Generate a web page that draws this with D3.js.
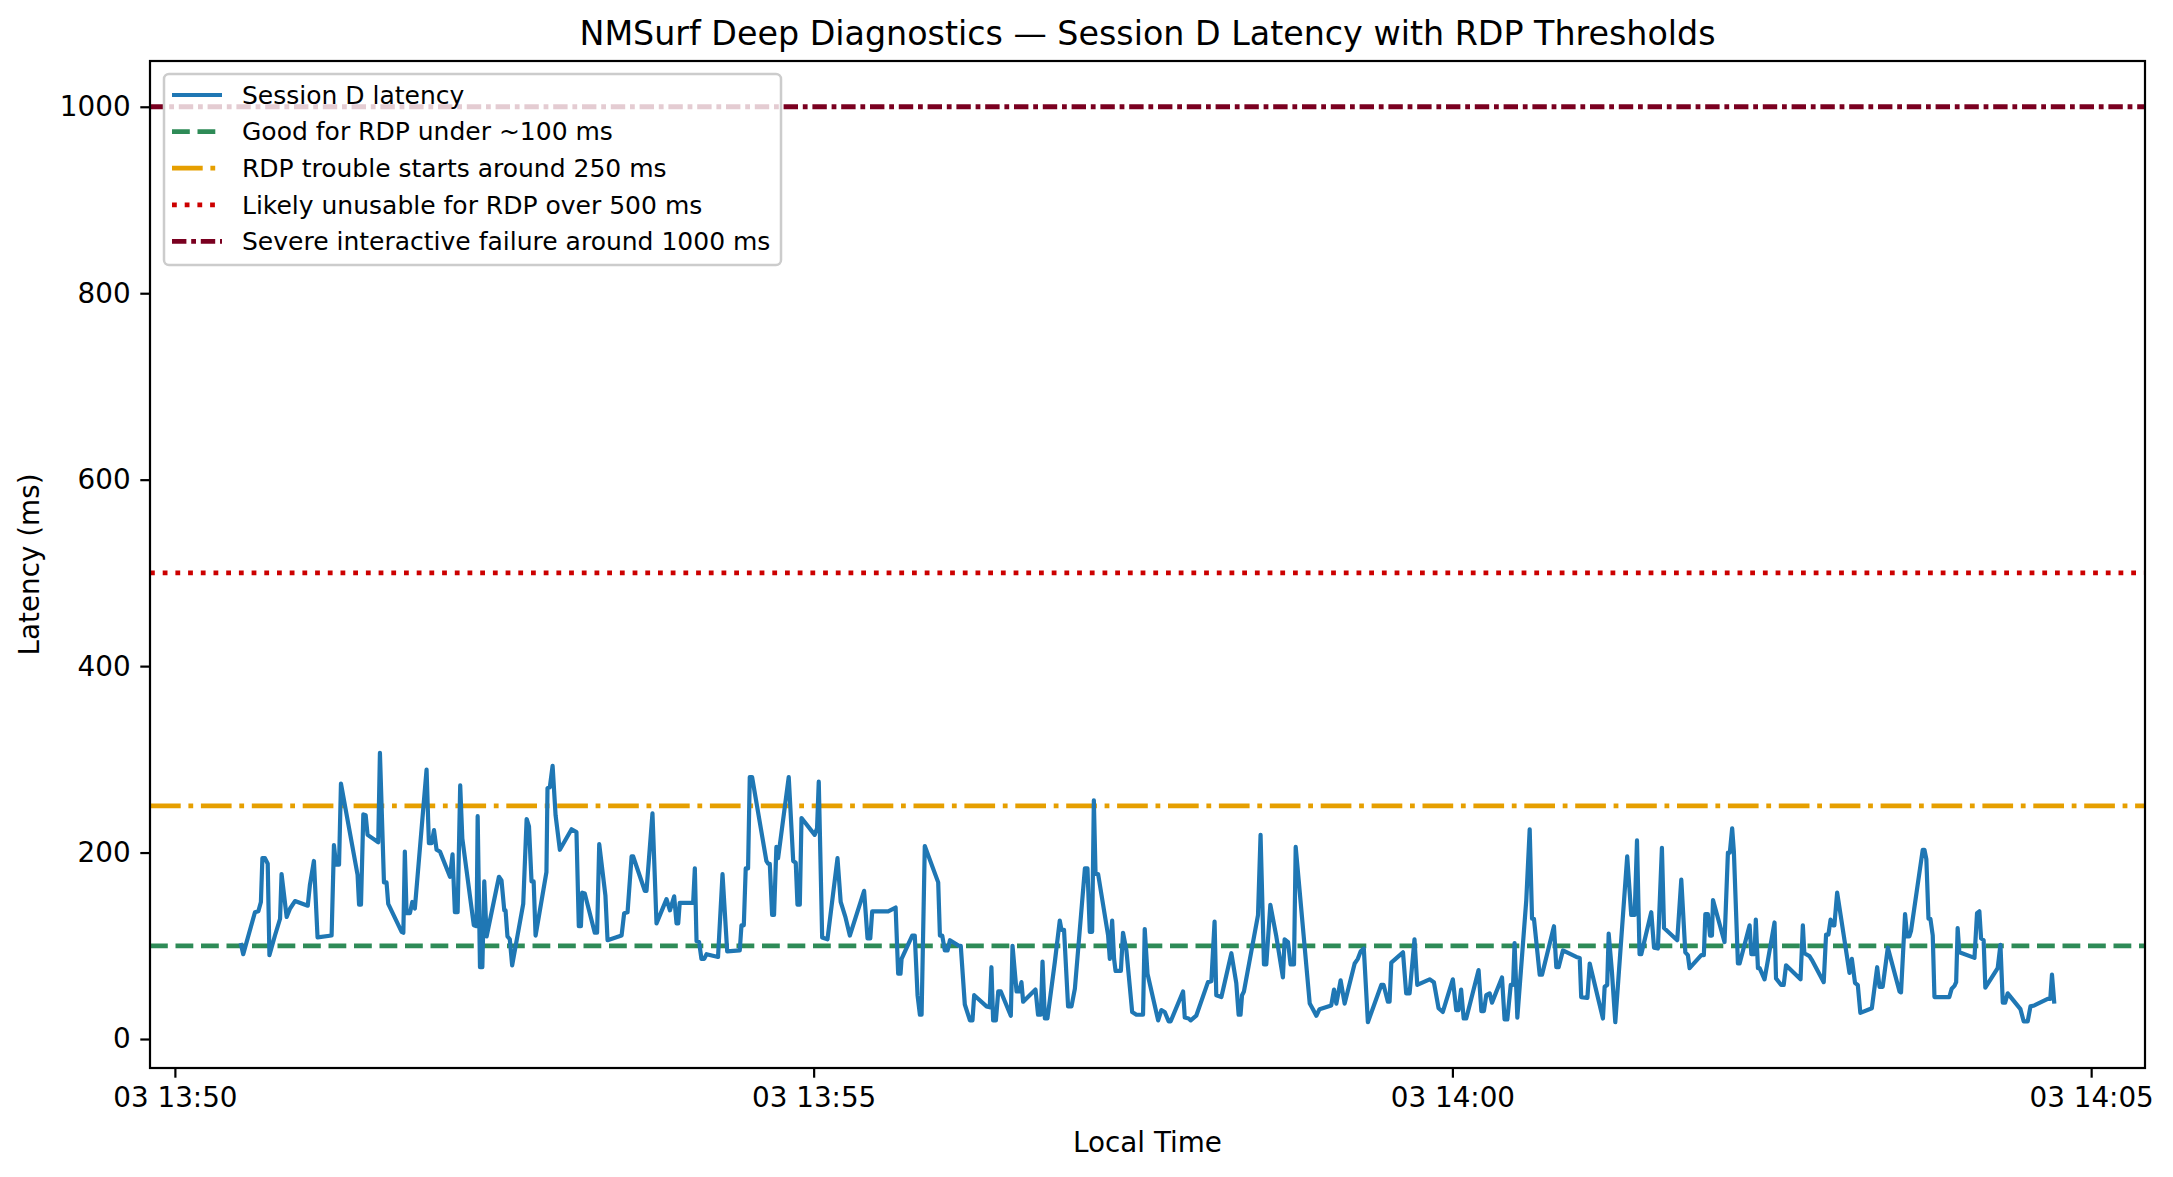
<!DOCTYPE html>
<html>
<head>
<meta charset="utf-8">
<title>Session D Latency</title>
<script src="https://cdn.jsdelivr.net/npm/d3@7"></script>
<style>
  body { margin: 0; background: #fff; }
  svg { display: block; font-family: "DejaVu Sans", sans-serif; }
</style>
</head>
<body>
<div id="graph"></div>
<script>
//Javascript Document

// seconds after 13:50:00 on the 3rd
var secondsAfter1350 = [
  30.9, 32.1, 37.6, 39.2, 40.4, 41.1, 42.3, 43.6, 44.4, 47.0, 49.4, 50.1, 52.5, 54.1, 56.4, 62.4, 63.4, 65.3, 67.0, 73.6,
  74.7, 75.7, 77.1, 78.0, 85.8, 86.5, 87.4, 88.5, 89.6, 90.5, 95.5, 96.3, 98.2, 99.4, 100.2, 106.5, 107.3, 108.0, 108.8, 110.4,
  111.5, 112.7, 118.2, 119.3, 120.6, 121.7, 122.9, 124.5, 129.2, 130.4, 131.5, 132.8, 134.0, 135.0, 140.4, 141.7, 142.2, 143.3, 144.4, 145.3,
  146.4, 152.2, 153.4, 154.7, 155.3, 156.2, 157.3, 158.4, 163.6, 165.2, 166.3, 167.5, 168.5, 169.4,
  174.5, 175.0, 176.1, 177.4, 178.8, 180.8, 186.3, 188.6, 189.7, 190.7, 191.3, 192.5, 197.2, 198.3, 199.3, 202.2, 203.2, 209.8, 211.0, 212.6,
  214.5, 215.2, 220.7, 221.5, 224.3, 226.2, 230.9, 232.5, 234.5, 235.6, 236.4, 237.1, 243.4, 244.2, 245.0, 246.2, 247.3, 248.6, 249.7, 255.1,
  257.2, 259.4, 265.3, 266.1, 267.2, 268.1, 269.2, 270.0, 271.1, 277.8, 278.6, 279.4, 280.5, 281.4, 282.5, 283.3, 288.3, 290.4, 291.6, 292.4,
  293.5, 294.3, 300.5, 301.6, 302.4, 304.0, 306.5, 311.2, 312.7, 314.9, 317.0,
  323.7, 325.3, 326.6, 327.5, 335.0, 338.5, 339.7, 340.8, 341.3, 346.3, 347.5, 348.8, 349.9, 350.7, 352.2, 358.5, 359.3, 360.4, 361.6, 362.9,
  364.0, 368.2, 369.1, 371.0, 373.4, 374.6, 375.4, 381.2, 382.7, 383.5, 384.3, 385.6, 386.7, 387.9, 392.6, 393.4, 395.3, 396.5, 397.6, 398.4,
  404.2, 405.4, 406.7, 407.5, 408.6, 409.8, 413.3, 415.6, 416.4, 417.6, 419.5, 421.1, 422.7, 427.4, 428.6, 429.7, 430.8, 431.6, 432.4, 433.6,
  438.3, 439.1, 440.2, 441.1, 441.8, 444.3, 445.3, 446.9, 449.6, 451.6, 454.7, 455.5, 456.8, 461.8,
  463.3, 464.9, 466.7, 467.7, 473.5, 474.3, 476.1, 477.1, 479.7, 485.2, 486.8, 488.3, 489.1, 491.5, 496.2, 498.5, 499.6, 500.5, 501.2, 502.1,
  508.7, 509.9, 511.5, 512.6, 514.5, 517.3, 520.4, 521.2, 522.8, 524.0, 525.6, 526.4, 533.0, 534.5, 536.1, 537.6, 543.1, 544.4, 545.5, 547.5,
  549.4, 554.1, 555.6, 556.9, 558.4, 560.3, 566.6, 567.7, 569.7, 570.5, 571.3, 576.8, 578.3, 579.9, 582.2, 583.5, 589.3, 591.3, 593.5, 595.5,
  600.2, 601.8, 602.9, 604.1, 605.3, 606.5,
  612.3, 613.6, 614.8, 615.9, 617.5, 618.6, 623.3, 624.5, 625.8, 627.4, 628.5, 629.2, 630.5, 634.7, 636.3, 637.4, 638.3, 641.0, 642.1, 647.7,
  648.8, 649.9, 651.9, 658.2, 659.8, 660.5, 663.4, 664.5, 670.7, 671.5, 672.7, 673.4, 674.9, 676.5, 682.1, 684.0, 685.6, 686.7, 687.9, 688.7,
  693.4, 694.7, 696.5, 698.4, 699.4, 705.6, 707.5, 709.4, 710.6, 711.4, 716.9, 718.1, 718.8, 720.0, 721.0, 721.9, 722.4, 727.8, 729.4, 730.3,
  731.4, 732.2, 734.1, 734.9, 739.6, 740.4, 741.9, 742.5, 743.5, 744.3, 746.6, 751.3,
  752.0, 754.4, 755.6, 756.7, 763.5, 764.6, 765.3, 767.7, 768.8, 774.4, 775.5, 776.6, 777.6, 778.7, 779.4, 780.7, 782.6, 786.5, 787.6, 789.1,
  790.4, 791.6, 797.0, 799.5, 800.6, 802.1, 804.5, 810.0, 810.7, 812.6, 813.6, 814.6, 815.4, 820.9, 821.7, 822.6, 823.6, 824.5, 825.6, 826.4,
  833.4, 834.5, 835.8, 836.6, 837.3, 838.1, 845.2, 846.4, 847.5, 848.3, 849.5, 850.3, 856.1, 857.4, 858.5, 859.6, 860.8, 866.8, 868.3, 870.2,
  871.5, 873.3, 879.6, 880.8, 881.6, 882.7
];

// latency in ms, one per time above
var latencyMs = [
  103, 91, 136, 137, 147, 194, 194, 188, 90, 111, 129, 177, 131, 140, 148, 143, 165, 191, 109, 111,
  208, 187, 187, 274, 176, 144, 144, 241, 240, 219, 211, 307, 168, 168, 145, 115, 114, 201, 135, 135,
  147, 140, 289, 210, 210, 224, 203, 201, 174, 198, 136, 136, 272, 215, 122, 121, 239, 77, 77, 169,
  110, 174, 170, 138, 138, 110, 107, 79, 145, 236, 228, 169, 169, 111,
  179, 269, 270, 293, 240, 203, 225, 222, 121, 121, 157, 156, 114, 114, 209, 154, 106, 111, 135, 136,
  196, 196, 159, 159, 242, 124, 150, 138, 153, 124, 124, 146, 146, 183, 105, 104, 86, 86, 91, 88,
  177, 94, 95, 122, 122, 183, 183, 281, 281, 191, 188, 188, 133, 133, 206, 194, 281, 191, 189, 144,
  144, 237, 219, 226, 276, 109, 107, 194, 147, 131, 111,
  159, 108, 108, 137, 137, 141, 70, 70, 86, 111, 111, 47, 26, 26, 207, 168, 111, 111, 95, 95,
  106, 100, 100, 37, 20, 20, 47, 35, 34, 77, 20, 20, 51, 51, 25, 100, 51, 51, 61, 40,
  53, 26, 26, 83, 22, 22, 83, 127, 117, 117, 35, 35, 54, 183, 183, 115, 115, 256, 177, 177,
  111, 86, 127, 86, 73, 73, 114, 95, 29, 26, 26, 118, 70, 20,
  31, 29, 19, 19, 51, 23, 22, 20, 25, 61, 62, 126, 47, 45, 92, 60, 26, 26, 47, 51,
  133, 219, 80, 80, 144, 110, 66, 107, 104, 80, 80, 206, 38, 32, 25, 32, 36, 53, 38, 63,
  38, 81, 86, 94, 97, 18, 58, 58, 40, 40, 82, 93, 49, 49, 107, 58, 64, 61, 33, 29,
  64, 31, 31, 53, 22, 22,
  74, 30, 30, 47, 49, 39, 66, 21, 21, 58, 58, 103, 23, 149, 225, 129, 129, 69, 69, 121,
  77, 77, 95, 88, 87, 45, 44, 81, 22, 56, 58, 113, 73, 18, 196, 133, 133, 213, 91, 91,
  136, 98, 97, 205, 119, 106, 171, 93, 90, 76, 90, 90, 134, 134, 111, 111, 149, 104, 200, 200,
  226, 201, 81, 81, 122, 91, 91, 128, 76, 76, 64, 125,
  65, 58, 58, 79, 64, 122, 92, 89, 85, 61, 112, 112, 128, 122, 122, 157, 129, 71, 86, 60,
  58, 28, 33, 77, 56, 56, 98, 51, 50, 134, 110, 110, 116, 203, 203, 193, 129, 129, 111, 45,
  45, 54, 57, 61, 119, 93, 87, 135, 137, 108, 106, 55, 76, 101, 39, 39, 49, 32, 19, 19,
  35, 36, 43, 43, 69, 38
];

// reference lines and their legend text
var thresholdValues = [100, 250, 500, 1000];
var thresholdLabels = [
  "Good for RDP under ~100 ms",
  "RDP trouble starts around 250 ms",
  "Likely unusable for RDP over 500 ms",
  "Severe interactive failure around 1000 ms"
];
var seriesLabel = "Session D latency";
var yTickValues = [0, 200, 400, 600, 800, 1000];

(function(){
	"use strict";

	var width = 2173;
	var height = 1177;
	// plot box, same place as the matplotlib axes
	var left = 150, right = 2145, top = 61, bottom = 1068;

	var base = new Date(2025, 0, 3, 13, 50, 0).getTime();
	var points = secondsAfter1350.map(function(s, i) {
		return { t: new Date(base + s * 1000), v: latencyMs[i] };
	});

	// styles for the threshold lines
	var thrColor = ["#2e8b57", "#e69f00", "#cc0000", "#7a0020"];
	var thrDash = ["17.8,7.7", "30.7,7.7,4.8,7.7", "4.8,7.9", "14.4,4.8,4.8,4.8"];
	var lineW = 4.8;

	// 5% margins like matplotlib
	var tExt = d3.extent(points, function(d) { return d.t.getTime(); });
	var tPad = (tExt[1] - tExt[0]) * 0.05;
	var x = d3.scaleTime()
		.domain([new Date(tExt[0] - tPad), new Date(tExt[1] + tPad)])
		.range([left, right]);

	var vMin = Math.min(d3.min(latencyMs), d3.min(thresholdValues));
	var vMax = Math.max(d3.max(latencyMs), d3.max(thresholdValues));
	var vPad = (vMax - vMin) * 0.05;
	var y = d3.scaleLinear()
		.domain([vMin - vPad, vMax + vPad])
		.range([bottom, top]);

	var svg = d3.select("#graph").append("svg")
		.attr("width", width)
		.attr("height", height);

	svg.append("rect").attr("width", width).attr("height", height).attr("fill", "#fff");

	// threshold lines
	svg.append("g").selectAll("line")
		.data(thresholdValues)
		.enter()
		.append("line")
		.attr("x1", left)
		.attr("x2", right)
		.attr("y1", function(d) { return y(d); })
		.attr("y2", function(d) { return y(d); })
		.attr("stroke", function(d, i) { return thrColor[i]; })
		.attr("stroke-width", lineW)
		.attr("stroke-dasharray", function(d, i) { return thrDash[i]; });

	// the latency line
	var line = d3.line()
		.x(function(d) { return x(d.t); })
		.y(function(d) { return y(d.v); });

	svg.append("path")
		.datum(points)
		.attr("d", line)
		.attr("fill", "none")
		.attr("stroke", "#1f77b4")
		.attr("stroke-width", 4.2)
		.attr("stroke-linejoin", "round");

	// axes
	var xAxis = d3.axisBottom(x)
		.ticks(d3.timeMinute.every(5))
		.tickFormat(d3.timeFormat("%d %H:%M"))
		.tickSize(9.7)
		.tickPadding(9.7);
	var yAxis = d3.axisLeft(y)
		.tickValues(yTickValues)
		.tickFormat(d3.format("d"))
		.tickSize(9.7)
		.tickPadding(9.7);

	var gx = svg.append("g").attr("transform", "translate(0," + bottom + ")").call(xAxis);
	var gy = svg.append("g").attr("transform", "translate(" + left + ",0)").call(yAxis);
	[gx, gy].forEach(function(g) {
		g.select(".domain").remove();
		g.selectAll(".tick line").attr("stroke", "#000").attr("stroke-width", 2.2);
		g.selectAll(".tick text")
			.attr("fill", "#000")
			.style("font-size", "27.8px")
			.style("font-family", "DejaVu Sans");
	});

	// spines
	svg.append("rect")
		.attr("x", left)
		.attr("y", top)
		.attr("width", right - left)
		.attr("height", bottom - top)
		.attr("fill", "none")
		.attr("stroke", "#000")
		.attr("stroke-width", 2.2);

	// titles
	svg.append("text")
		.attr("x", (left + right) / 2)
		.attr("y", 45)
		.attr("text-anchor", "middle")
		.style("font-size", "33.3px")
		.text("NMSurf Deep Diagnostics \u2014 Session D Latency with RDP Thresholds");

	svg.append("text")
		.attr("x", (left + right) / 2)
		.attr("y", 1152)
		.attr("text-anchor", "middle")
		.style("font-size", "27.8px")
		.text("Local Time");

	svg.append("text")
		.attr("transform", "translate(39," + ((top + bottom) / 2) + ") rotate(-90)")
		.attr("text-anchor", "middle")
		.style("font-size", "27.8px")
		.text("Latency (ms)");

	// legend
	var legend = svg.append("g").attr("transform", "translate(164,74)");
	legend.append("rect")
		.attr("width", 617)
		.attr("height", 191)
		.attr("rx", 5)
		.attr("fill", "#fff")
		.attr("fill-opacity", 0.8)
		.attr("stroke", "#cccccc")
		.attr("stroke-width", 2.5);

	var entries = [{ label: seriesLabel, color: "#1f77b4", dash: null, w: 4.2 }];
	thresholdLabels.forEach(function(l, i) {
		entries.push({ label: l, color: thrColor[i], dash: thrDash[i], w: lineW });
	});

	var rows = legend.selectAll("g.row")
		.data(entries)
		.enter()
		.append("g")
		.attr("class", "row")
		.attr("transform", function(d, i) { return "translate(0," + (21 + i * 36.6) + ")"; });

	rows.append("line")
		.attr("x1", 8)
		.attr("x2", 58)
		.attr("stroke", function(d) { return d.color; })
		.attr("stroke-width", function(d) { return d.w; })
		.attr("stroke-dasharray", function(d) { return d.dash; });

	rows.append("text")
		.attr("x", 78)
		.attr("y", 8.7)
		.style("font-size", "25px")
		.text(function(d) { return d.label; });
})();
</script>
</body>
</html>
